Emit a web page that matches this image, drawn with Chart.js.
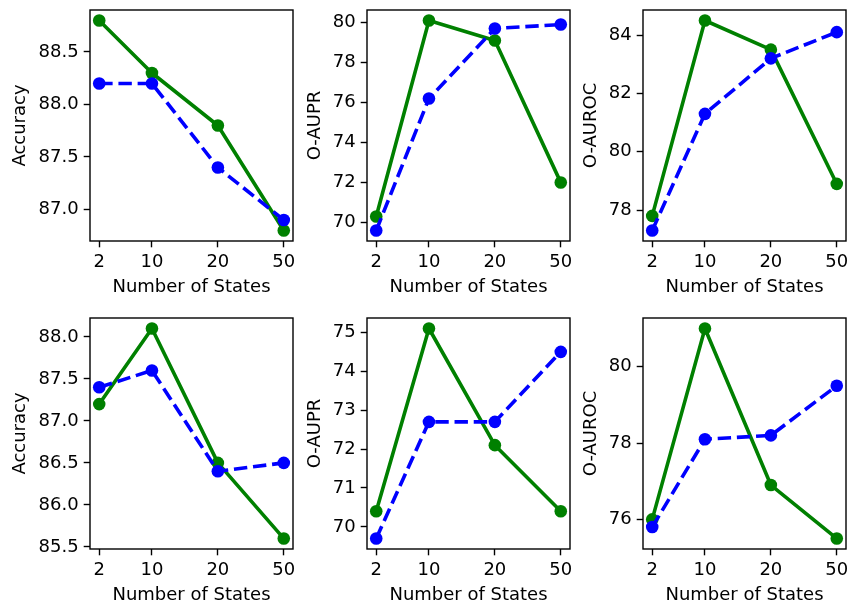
<!DOCTYPE html>
<html>
<head>
<meta charset="utf-8">
<script src="https://cdn.jsdelivr.net/npm/chart.js@4"></script>
<style>
  html, body { margin: 0; padding: 0; background: #ffffff; }
  body { width: 850px; height: 604px; position: relative; overflow: hidden; }
  canvas { position: absolute; }
</style>
</head>
<body>
<canvas id="c1" width="296" height="301"></canvas>
<canvas id="c2" width="296" height="301"></canvas>
<canvas id="c3" width="296" height="301"></canvas>
<canvas id="c4" width="296" height="301"></canvas>
<canvas id="c5" width="296" height="301"></canvas>
<canvas id="c6" width="296" height="301"></canvas>
<script>
// ---- data ----
const stateLabels = ['2', '10', '20', '50'];
const statePositions = [2, 10, 20, 30];
const xAxisTitle = 'Number of States';

const accTopGreen   = [88.8, 88.3, 87.8, 86.8];
const accTopBlue    = [88.2, 88.2, 87.4, 86.9];
const auprTopGreen  = [70.3, 80.1, 79.1, 72.0];
const auprTopBlue   = [69.6, 76.2, 79.7, 79.9];
const aurocTopGreen = [77.8, 84.5, 83.5, 78.9];
const aurocTopBlue  = [77.3, 81.3, 83.2, 84.1];

const accBotGreen   = [87.2, 88.1, 86.5, 85.6];
const accBotBlue    = [87.4, 87.6, 86.4, 86.5];
const auprBotGreen  = [70.4, 75.1, 72.1, 70.4];
const auprBotBlue   = [69.7, 72.7, 72.7, 74.5];
const aurocBotGreen = [76.0, 81.0, 76.9, 75.5];
const aurocBotBlue  = [75.8, 78.1, 78.2, 79.5];

const accTopTicks   = [87.0, 87.5, 88.0, 88.5];
const auprTopTicks  = [70, 72, 74, 76, 78, 80];
const aurocTopTicks = [78, 80, 82, 84];
const accBotTicks   = [85.5, 86.0, 86.5, 87.0, 87.5, 88.0];
const auprBotTicks  = [70, 71, 72, 73, 74, 75];
const aurocBotTicks = [76, 78, 80];

// ---- styling / layout ----
const FONT = { family: 'DejaVu Sans', size: 18 };
const GREEN = '#008000';
const BLUE = '#0000ff';

const frame = {
  id: 'frame',
  afterDatasetsDraw(chart) {
    const a = chart.chartArea, ctx = chart.ctx;
    ctx.save();
    ctx.strokeStyle = '#000';
    ctx.lineWidth = 1.4;
    ctx.strokeRect(a.left, a.top, a.right - a.left, a.bottom - a.top);
    ctx.restore();
  }
};

function limits(arrs) {
  const all = [].concat(...arrs);
  const lo = Math.min(...all), hi = Math.max(...all);
  const m = (hi - lo) * 0.05;
  return [lo - m, hi + m];
}

function noPad(s) {
  s.paddingTop = 0; s.paddingBottom = 0; s.paddingLeft = 0; s.paddingRight = 0;
}

function makeChart(id, left, top, yTitle, green, blue, yTicks, decimals, titlePad) {
  const cv = document.getElementById(id);
  cv.style.left = left + 'px';
  cv.style.top = top + 'px';
  const [ymin, ymax] = limits([green, blue]);
  const [xmin, xmax] = limits([statePositions]);
  const pts = arr => arr.map((v, i) => ({ x: statePositions[i], y: v }));
  new Chart(cv, {
    type: 'line',
    data: {
      datasets: [
        {
          data: pts(green), borderColor: GREEN, backgroundColor: GREEN,
          borderWidth: 3.6, pointRadius: 6.3, pointHoverRadius: 6.3, pointBorderWidth: 0,
          pointBackgroundColor: GREEN, borderJoinStyle: 'round', borderCapStyle: 'square',
          tension: 0, fill: false, clip: false, order: 1
        },
        {
          data: pts(blue), borderColor: BLUE, backgroundColor: BLUE,
          borderWidth: 3.6, pointRadius: 6.3, pointHoverRadius: 6.3, pointBorderWidth: 0,
          pointBackgroundColor: BLUE, borderDash: [13.4, 5.8], borderJoinStyle: 'round',
          tension: 0, fill: false, clip: false, order: 0
        }
      ]
    },
    options: {
      responsive: false,
      animation: false,
      events: [],
      layout: { autoPadding: false, padding: { top: 10, right: 3, left: 0, bottom: 0 } },
      plugins: { legend: { display: false }, tooltip: { enabled: false } },
      scales: {
        x: {
          type: 'linear', min: xmin, max: xmax,
          afterBuildTicks: s => { s.ticks = statePositions.map(v => ({ value: v })); },
          afterFit: s => { s.height = 60; noPad(s); },
          ticks: {
            font: FONT, color: '#000', padding: 4, maxRotation: 0, autoSkip: false,
            callback: v => stateLabels[statePositions.indexOf(v)]
          },
          grid: { display: true, drawOnChartArea: false, drawTicks: true, tickLength: 6.3, tickWidth: 1.4, tickColor: '#000' },
          border: { display: false },
          title: { display: true, text: xAxisTitle, font: FONT, color: '#000', padding: { top: 0, bottom: 3 } }
        },
        y: {
          type: 'linear', min: ymin, max: ymax,
          afterBuildTicks: s => { s.ticks = yTicks.map(v => ({ value: v })); },
          afterFit: s => { s.width = 90; noPad(s); },
          ticks: {
            font: FONT, color: '#000', padding: 5, autoSkip: false,
            callback: v => Number(v).toFixed(decimals)
          },
          grid: { display: true, drawOnChartArea: false, drawTicks: true, tickLength: 6.3, tickWidth: 1.4, tickColor: '#000' },
          border: { display: false },
          title: { display: true, text: yTitle, font: FONT, color: '#000', padding: { top: titlePad, bottom: 0 } }
        }
      }
    },
    plugins: [frame]
  });
}

makeChart('c1', 0,   0,   'Accuracy', accTopGreen,   accTopBlue,   accTopTicks,   1, 9.2);
makeChart('c2', 277, 0,   'O-AUPR',   auprTopGreen,  auprTopBlue,  auprTopTicks,  0, 27.5);
makeChart('c3', 553, 0,   'O-AUROC',  aurocTopGreen, aurocTopBlue, aurocTopTicks, 0, 27.5);
makeChart('c4', 0,   308, 'Accuracy', accBotGreen,   accBotBlue,   accBotTicks,   1, 9.2);
makeChart('c5', 277, 308, 'O-AUPR',   auprBotGreen,  auprBotBlue,  auprBotTicks,  0, 27.5);
makeChart('c6', 553, 308, 'O-AUROC',  aurocBotGreen, aurocBotBlue, aurocBotTicks, 0, 27.5);
</script>
</body>
</html>
